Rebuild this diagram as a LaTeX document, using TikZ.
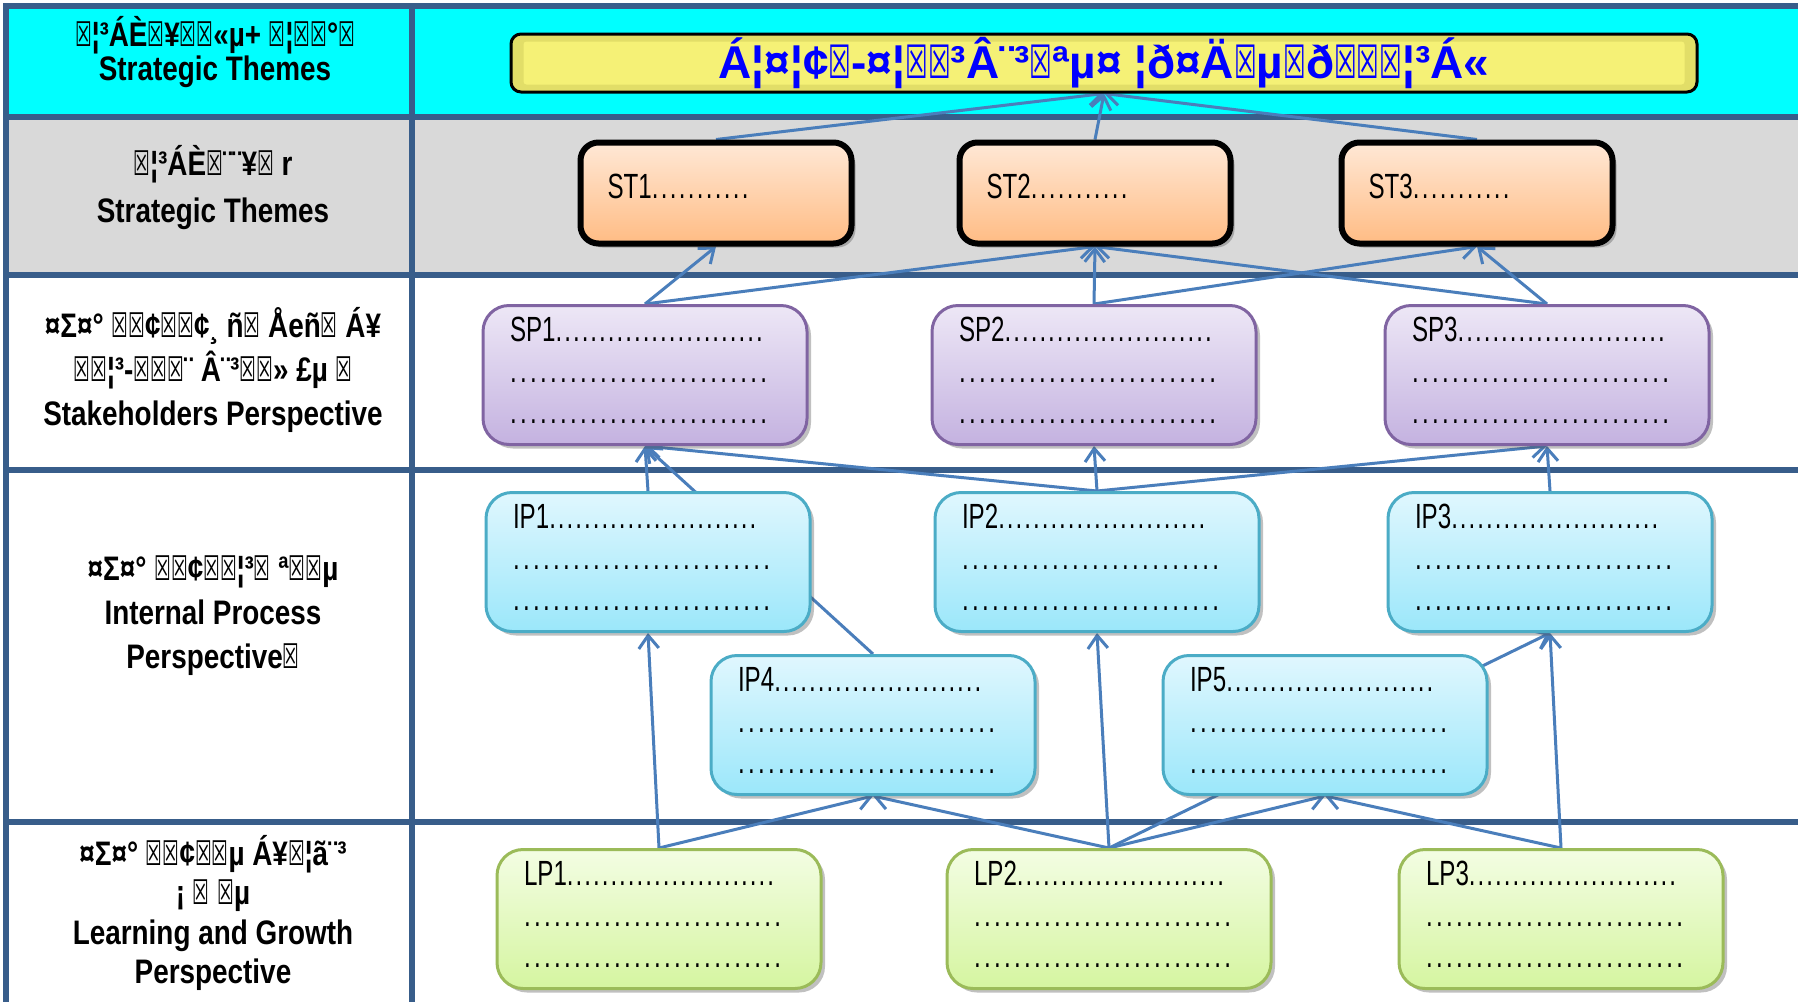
\documentclass[tikz,border=0pt]{standalone}
\usepackage{fontspec}
\setmainfont{Liberation Sans}
\newfontfamily\boxfont[FakeStretch=0.69]{Liberation Sans}
\newfontfamily\labfont[FakeStretch=0.82]{Liberation Sans}
\newfontfamily\banfont{Liberation Sans}
\newfontfamily\dvbox[FakeStretch=0.55]{DejaVu Sans}
\usetikzlibrary{arrows.meta,shadows}
\newcommand\bx{{\dvbox\mdseries ☒}}
\newcount\dotcnt
\newcommand\dotrow[2]{\dotcnt=0\relax\loop\ifnum\dotcnt<#1 .\hskip#2\relax\advance\dotcnt by 1\relax\repeat}
\definecolor{cyanc}{RGB}{0,255,255}
\definecolor{grayc}{RGB}{217,217,217}
\definecolor{gridc}{RGB}{56,93,138}
\definecolor{connc}{RGB}{74,126,187}
\definecolor{stTop}{RGB}{255,232,214}
\definecolor{stBot}{RGB}{255,188,132}
\definecolor{spTop}{RGB}{237,231,246}
\definecolor{spBot}{RGB}{196,178,224}
\definecolor{spLine}{RGB}{128,100,162}
\definecolor{ipTop}{RGB}{224,247,254}
\definecolor{ipBot}{RGB}{155,231,250}
\definecolor{ipLine}{RGB}{75,172,198}
\definecolor{lpTop}{RGB}{243,253,227}
\definecolor{lpBot}{RGB}{213,245,160}
\definecolor{lpLine}{RGB}{155,187,89}
\definecolor{bnOuter}{RGB}{226,222,104}
\definecolor{bnInner}{RGB}{245,241,118}
\definecolor{bnText}{RGB}{0,0,255}
\pgfdeclarelayer{bg}
\pgfdeclarelayer{lines}
\pgfsetlayers{bg,lines,main}
\tikzset{
  cellline/.style={draw=gridc, line width=6pt},
  conn/.style={draw=connc, line width=3pt, -{Straight Barb[length=13pt,width=20pt,line width=3pt]}},
  shad/.style={drop shadow={shadow xshift=4pt,shadow yshift=-4pt,fill=black!70,opacity=0.35}},
  stbox/.style={shad, rounded corners=18pt, draw=black, line width=6pt, top color=stTop, bottom color=stBot,
    minimum width=271pt, minimum height=101pt},
  sttxt/.style={text width=217pt, align=left, inner sep=0pt, yshift=7pt,
    font=\boxfont\fontsize{35}{41}\selectfont},
  gbox/.style={shad, rounded corners=26pt, line width=3pt,
    minimum width=324pt, minimum height=139pt},
  gtxt/.style={text width=270pt, align=left, inner sep=0pt, yshift=5pt,
    font=\boxfont\fontsize{35}{41}\selectfont},
  spbox/.style={gbox, draw=spLine, top color=spTop, bottom color=spBot},
  ipbox/.style={gbox, draw=ipLine, top color=ipTop, bottom color=ipBot},
  lpbox/.style={gbox, draw=lpLine, top color=lpTop, bottom color=lpBot},
  rowlab/.style={align=center, font=\labfont\bfseries\fontsize{34}{#1}\selectfont},
  banner/.style={rounded corners=10pt, draw=black, line width=3pt, fill=bnOuter,
    minimum width=1186pt, minimum height=58pt},
  bantext/.style={text=bnText, font=\banfont\bfseries\fontsize{46}{46}\selectfont}
}
\newcommand\threelines[1]{#1\dotrow{24}{2pt}\\\dotrow{26}{3.3pt}\\\dotrow{26}{3.3pt}}
\begin{document}
\begin{tikzpicture}[x=1pt,y=-1pt]
\useasboundingbox (0,0) rectangle (1798,1002);
\begin{pgfonlayer}{bg}
  \fill[white] (0,0) rectangle (1798,1002);
  \fill[cyanc] (6,6) rectangle (1798,117);
  \fill[grayc] (6,117) rectangle (1798,275);
  \foreach \yy in {6,117,275,470,822} \draw[cellline] (3,\yy) -- (1798,\yy);
  \foreach \xx in {6,412} \draw[cellline] (\xx,3) -- (\xx,1002);
\end{pgfonlayer}

% row labels
\node[rowlab=32] (L1) at (215,52) {\bx{}¦³ÁÈ\bx{}¥\bx{}\bx{}«µ+ \bx{}¦\bx{}\bx{}°\bx{}\\Strategic Themes};
\node[rowlab=47] (L2) at (213,188) {\bx{}¦³ÁÈ\bx{}¨¨¥\bx{} r\\Strategic Themes};
\node[rowlab=44] (L3) at (213,370) {¤Σ¤° \bx{}\bx{}¢\bx{}\bx{}¢¸ ñ\bx{} Åeñ\bx{} Á¥\\\bx{}\bx{}¦³-\bx{}\bx{}\bx{}¨ Â¨³\bx{}\bx{}» £µ \bx{}\\Stakeholders Perspective};
\node[rowlab=44] (L4) at (213,616) {¤Σ¤° \bx{}\bx{}¢\bx{}\bx{}¦³\bx{} ª\bx{}\bx{}µ\\Internal Process\\Perspective\bx{}};
\node[rowlab=39.5] (L5) at (213,913) {¤Σ¤° \bx{}\bx{}¢\bx{}\bx{}µ Á¥\bx{}¦ã¨³\\¡ \bx{} \bx{}µ\\Learning and Growth\\Perspective};

% banner
\node[banner] (BN) at (1104,63) {};
\fill[bnInner, rounded corners=3pt] ([shift={(14,9)}]BN.north west) rectangle ([shift={(-14,-9)}]BN.south east);
\node[bantext] (BNT) at (BN.center) {Á¦¤¦¢\bx{}-¤¦\bx{}\bx{}³Â¨³\bx{}ªµ¤ ¦ð¤Ä\bx{}µ\bx{}ð\bx{}\bx{}\bx{}¦³Á«};

% strategic themes
\node[stbox, label={[sttxt, name=ST1t]center:ST1\dotrow{11}{2.3pt}}] (ST1) at (716,193) {};
\node[stbox, label={[sttxt, name=ST2t]center:ST2\dotrow{11}{2.3pt}}] (ST2) at (1095,193) {};
\node[stbox, label={[sttxt, name=ST3t]center:ST3\dotrow{11}{2.3pt}}] (ST3) at (1477,193) {};

% stakeholders
\node[spbox, label={[gtxt, name=SP1t]center:\threelines{SP1}}] (SP1) at (645,375) {};
\node[spbox, label={[gtxt, name=SP2t]center:\threelines{SP2}}] (SP2) at (1094,375) {};
\node[spbox, label={[gtxt, name=SP3t]center:\threelines{SP3}}] (SP3) at (1547,375) {};

% internal process
\node[ipbox, label={[gtxt, name=IP1t]center:\threelines{IP1}}] (IP1) at (648,562) {};
\node[ipbox, label={[gtxt, name=IP2t]center:\threelines{IP2}}] (IP2) at (1097,562) {};
\node[ipbox, label={[gtxt, name=IP3t]center:\threelines{IP3}}] (IP3) at (1550,562) {};
\node[ipbox, label={[gtxt, name=IP4t]center:\threelines{IP4}}] (IP4) at (873,725) {};
\node[ipbox, label={[gtxt, name=IP5t]center:\threelines{IP5}}] (IP5) at (1325,725) {};

% learning and growth
\node[lpbox, label={[gtxt, name=LP1t]center:\threelines{LP1}}] (LP1) at (659,919) {};
\node[lpbox, label={[gtxt, name=LP2t]center:\threelines{LP2}}] (LP2) at (1109,919) {};
\node[lpbox, label={[gtxt, name=LP3t]center:\threelines{LP3}}] (LP3) at (1561,919) {};

\begin{pgfonlayer}{lines}
  \draw[conn] (ST1.north) -- (BN.south);
  \draw[conn] (ST2.north) -- (BN.south);
  \draw[conn] (ST3.north) -- (BN.south);
  \draw[conn] (SP1.north) -- (ST1.south);
  \draw[conn] (SP1.north) -- (ST2.south);
  \draw[conn] (SP2.north) -- (ST2.south);
  \draw[conn] (SP3.north) -- (ST2.south);
  \draw[conn] (SP2.north) -- (ST3.south);
  \draw[conn] (SP3.north) -- (ST3.south);
  \draw[conn] (IP1.north) -- (SP1.south);
  \draw[conn] (IP4.north) -- (SP1.south);
  \draw[conn] (IP2.north) -- (SP1.south);
  \draw[conn] (IP2.north) -- (SP2.south);
  \draw[conn] (IP2.north) -- (SP3.south);
  \draw[conn] (IP3.north) -- (SP3.south);
  \draw[conn] (LP1.north) -- (IP1.south);
  \draw[conn] (LP1.north) -- (IP4.south);
  \draw[conn] (LP2.north) -- (IP4.south);
  \draw[conn] (LP2.north) -- (IP2.south);
  \draw[conn] (LP2.north) -- (IP3.south);
  \draw[conn] (LP2.north) -- (IP5.south);
  \draw[conn] (LP3.north) -- (IP5.south);
  \draw[conn] (LP3.north) -- (IP3.south);
\end{pgfonlayer}
\end{tikzpicture}
\end{document}
